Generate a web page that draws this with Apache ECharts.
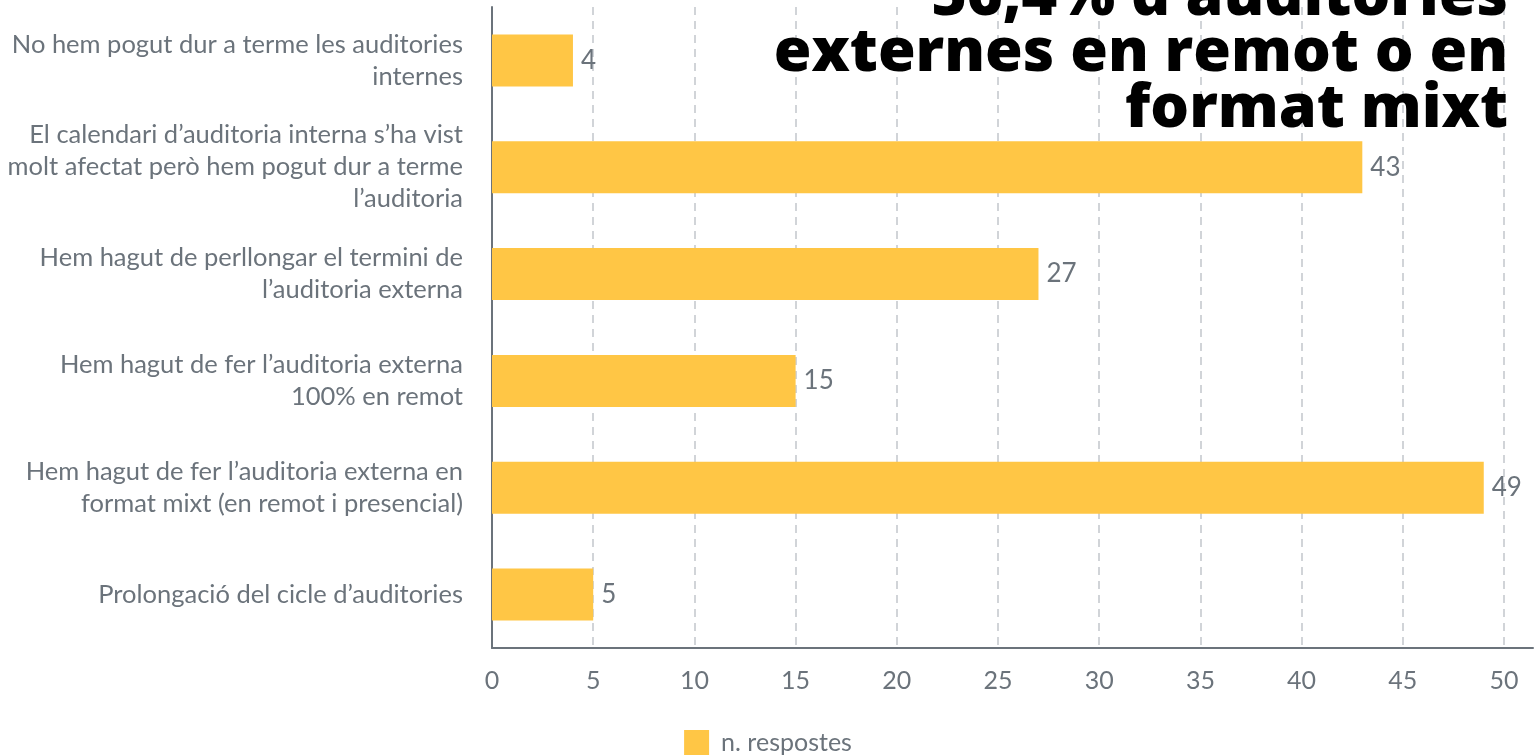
<!DOCTYPE html>
<html>
<head>
<meta charset="utf-8">
<script src="https://cdn.jsdelivr.net/npm/echarts@6/dist/echarts.min.js"></script>
<style>
  html, body { margin: 0; padding: 0; background: #fff; }
  #myChart { width: 1536px; height: 756px; }
</style>
</head>
<body>
<div id="myChart"></div>
<script>
// categories from top to bottom
const categories = [
  'No hem pogut dur a terme les auditories\ninternes',
  'El calendari d\u2019auditoria interna s\u2019ha vist\nmolt afectat per\u00f2 hem pogut dur a terme\nl\u2019auditoria',
  'Hem hagut de perllongar el termini de\nl\u2019auditoria externa',
  'Hem hagut de fer l\u2019auditoria externa\n100% en remot',
  'Hem hagut de fer l\u2019auditoria externa en\nformat mixt (en remot i presencial)',
  'Prolongaci\u00f3 del cicle d\u2019auditories'
]
const respostes = [4, 43, 27, 15, 49, 5]
const seriesName = 'n. respostes'
const titleLines = ['56,4% d\u2019auditories', 'externes en remot o en', 'format mixt']

const grey = '#6b737b'

// one right-aligned text per title line
const titleGraphics = titleLines.map((line, i) => ({
  type: 'text',
  right: 28,
  top: -33 + i * 56,
  z: 100,
  style: {
    text: line,
    fontFamily: 'Open Sans',
    fontWeight: 800,
    fontSize: 61,
    lineHeight: 56,
    fill: '#000'
  }
}))

let myChart = echarts.init(document.getElementById('myChart'))
let option = {
  animation: false,
  textStyle: { fontFamily: 'Lato' },
  graphic: titleGraphics,
  legend: {
    data: [seriesName],
    top: 725,
    left: 'center',
    itemWidth: 25,
    itemHeight: 25,
    itemGap: 12,
    icon: 'rect',
    textStyle: { fontSize: 25, color: grey, fontFamily: 'Lato', padding: [0, 0, 0, 7] }
  },
  grid: [
    // main plot area, 0..50
    { left: 492, right: 32, top: 7, bottom: 108, containLabel: false, outerBoundsMode: 'none' },
    // only to carry the x axis line a bit past 50
    { left: 492, right: 3, top: 7, bottom: 108, containLabel: false, outerBoundsMode: 'none' }
  ],
  xAxis: [
    {
      type: 'value',
      gridIndex: 0,
      min: 0,
      max: 50,
      interval: 5,
      axisLine: { show: false },
      axisTick: { show: false },
      axisLabel: { fontSize: 25, color: grey, margin: 20 },
      splitLine: {
        show: true,
        lineStyle: { color: '#c2c6cb', type: [8, 6], width: 1.5 }
      }
    },
    {
      type: 'value',
      gridIndex: 1,
      min: 0,
      max: 1,
      axisLine: { show: true, onZero: false, lineStyle: { color: grey, width: 2 } },
      axisTick: { show: false },
      axisLabel: { show: false },
      splitLine: { show: false }
    }
  ],
  yAxis: [
    {
      type: 'category',
      gridIndex: 0,
      inverse: true,
      data: categories,
      axisLine: { show: true, lineStyle: { color: grey, width: 2 } },
      axisTick: { show: false },
      axisLabel: {
        fontSize: 25.5,
        color: grey,
        margin: 29,
        lineHeight: 32,
        align: 'right'
      }
    },
    { type: 'value', gridIndex: 1, show: false }
  ],
  series: [
    {
      name: seriesName,
      type: 'bar',
      xAxisIndex: 0,
      yAxisIndex: 0,
      data: respostes,
      barWidth: 52,
      itemStyle: { color: '#ffc645' },
      label: {
        show: true,
        position: 'right',
        distance: 8,
        fontSize: 26,
        color: grey
      }
    }
  ]
}
myChart.setOption(option)
</script>
</body>
</html>
